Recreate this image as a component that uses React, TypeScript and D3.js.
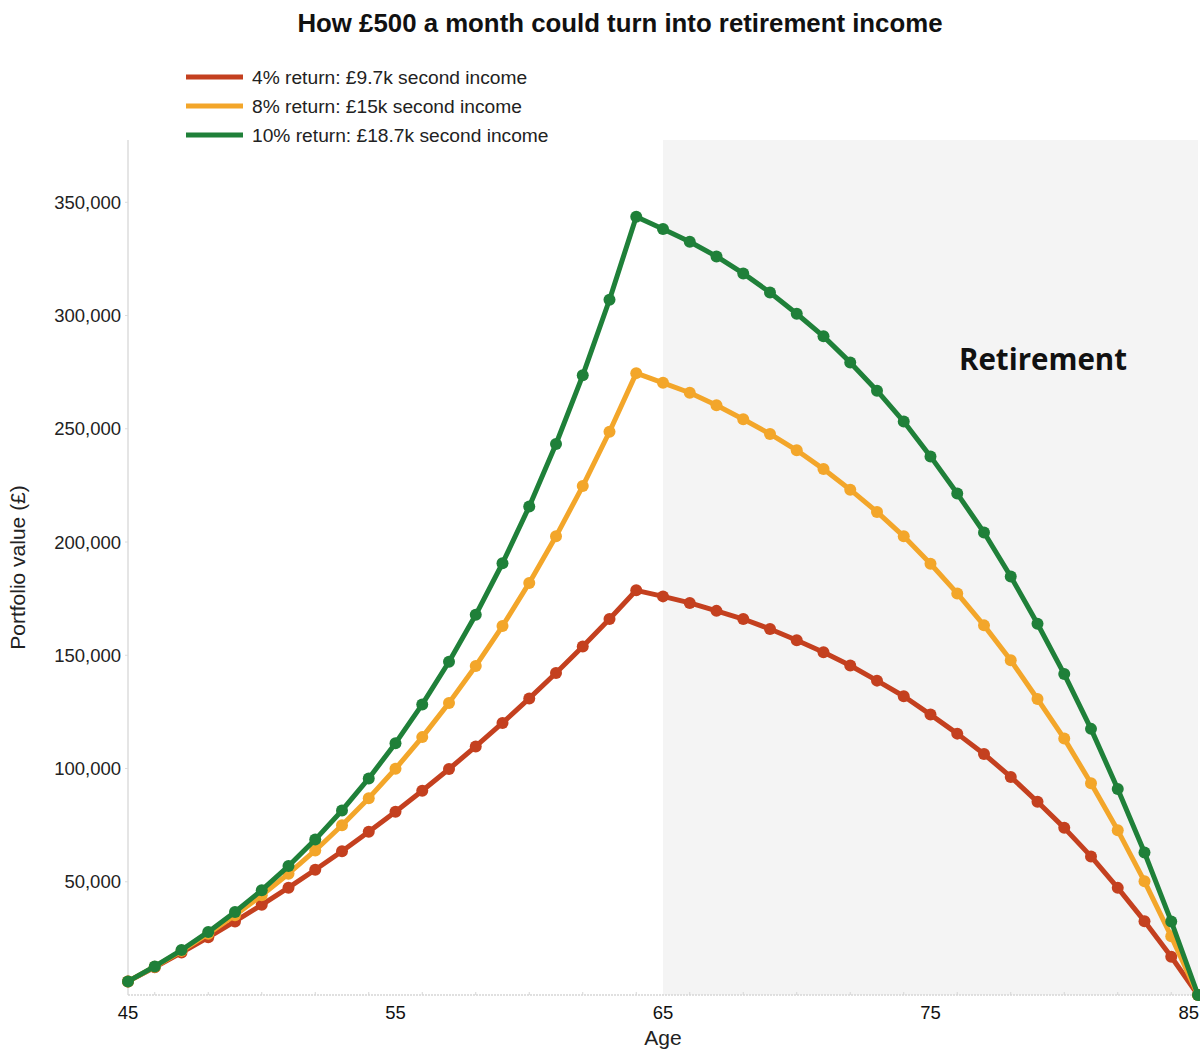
import * as d3 from "d3";

const ages = d3.range(45, 86);

const return4 = [
  6000, 12240, 18730, 25480, 32500, 39800, 47390, 55290, 63500, 72040, 80920,
  90160, 99760, 109750, 120140, 130950, 142190, 153870, 166030, 178670,
  176000, 173100, 169600, 166000, 161600, 156600, 151300, 145500, 138800,
  131900, 123800, 115400, 106400, 96300, 85300, 73800, 61200, 47300, 32600,
  16900, 0,
];
const return8 = [
  6000, 12480, 19480, 27040, 35200, 44020, 53540, 63820, 74930, 86920, 99870,
  113860, 128970, 145290, 162910, 181950, 202500, 224700, 248680, 274570,
  270300, 265900, 260400, 254200, 247700, 240500, 232200, 223100, 213300,
  202500, 190400, 177300, 163200, 147800, 130700, 113200, 93500, 72700, 50200,
  25900, 0,
];
const return10 = [
  6000, 12600, 19860, 27850, 36630, 46290, 56920, 68620, 81480, 95620, 111190,
  128310, 147140, 167850, 190630, 215700, 243270, 273600, 306960, 343650,
  338200, 332600, 326100, 318600, 310200, 300800, 290800, 279300, 266800,
  253200, 237800, 221400, 204200, 184800, 163900, 141700, 117500, 91000, 62900,
  32500, 0,
];

const seriesNames = [
  "4% return: £9.7k second income",
  "8% return: £15k second income",
  "10% return: £18.7k second income",
];
const seriesColors = ["#c4401f", "#f3a62a", "#1f8039"];
const seriesValues = [return4, return8, return10];

const yTicks = [50000, 100000, 150000, 200000, 250000, 300000, 350000];
const xTicks = [45, 55, 65, 75, 85];
const minorTicks = d3.range(46, 85, 2);
const retirementAge = 65;

export default function App() {
  const width = 1200;
  const height = 1054;
  const plot = { left: 128, right: 1198, top: 140, bottom: 995 };
  const font = "'Liberation Sans', Arial, sans-serif";

  const x = d3.scaleLinear().domain([45, 85]).range([plot.left, plot.right]);
  const y = d3.scaleLinear().domain([0, 377500]).range([plot.bottom, plot.top]);

  const line = d3
    .line<number>()
    .x((_, i) => x(ages[i]))
    .y((d) => y(d));

  const fmt = d3.format(",");

  return (
    <div style={{ position: "absolute", left: 0, top: 0 }}>
      <svg width={width} height={height} style={{ display: "block" }}>
        <rect width={width} height={height} fill="white" />
        {/* retirement shading */}
        <rect
          x={x(retirementAge)}
          y={plot.top}
          width={x(85) - x(retirementAge)}
          height={plot.bottom - plot.top}
          fill="#f4f4f4"
        />
        <text
          x={1043}
          y={370}
          textAnchor="middle"
          fontFamily="'Open Sans', sans-serif"
          fontWeight={700}
          fontSize={29.5}
          fill="#111"
        >
          Retirement
        </text>

        {/* title */}
        <text
          x={620}
          y={32}
          textAnchor="middle"
          fontFamily={font}
          fontWeight={700}
          fontSize={25.8}
          fill="#111"
        >
          How £500 a month could turn into retirement income
        </text>

        {/* legend */}
        {seriesNames.map((name, i) => (
          <g key={name} transform={`translate(186, ${77 + i * 29})`}>
            <line x1={0} x2={57} y1={0} y2={0} stroke={seriesColors[i]} strokeWidth={5} />
            <text x={66} y={6.5} fontFamily={font} fontSize={19.2} fill="#222">
              {name}
            </text>
          </g>
        ))}

        {/* y axis */}
        <line
          x1={plot.left}
          x2={plot.left}
          y1={plot.top}
          y2={plot.bottom}
          stroke="#dcdcdc"
          strokeWidth={1.5}
        />
        {yTicks.map((t) => (
          <g key={t}>
            <line x1={plot.left - 3} x2={plot.left} y1={y(t)} y2={y(t)} stroke="#dcdcdc" />
            <text
              x={plot.left - 7}
              y={y(t) + 6.5}
              textAnchor="end"
              fontFamily={font}
              fontSize={18.5}
              fill="#222"
            >
              {fmt(t)}
            </text>
          </g>
        ))}
        <text
          transform={`translate(25, ${(plot.top + plot.bottom) / 2}) rotate(-90)`}
          textAnchor="middle"
          fontFamily={font}
          fontSize={21}
          fill="#222"
        >
          Portfolio value (£)
        </text>

        {/* x axis */}
        <line
          x1={plot.left}
          x2={plot.right}
          y1={plot.bottom}
          y2={plot.bottom}
          stroke="#d6d6d6"
          strokeWidth={1.5}
          strokeDasharray="2 1"
        />
        {minorTicks.map((t) => (
          <line
            key={t}
            x1={x(t)}
            x2={x(t)}
            y1={plot.bottom}
            y2={plot.bottom - 3}
            stroke="#d6d6d6"
          />
        ))}
        {xTicks.map((t, i) => {
          const last = i === xTicks.length - 1;
          return (
            <text
              key={t}
              x={last ? width - 1 : x(t)}
              y={plot.bottom + 24}
              textAnchor={last ? "end" : "middle"}
              fontFamily={font}
              fontSize={18.5}
              fill="#111"
            >
              {t}
            </text>
          );
        })}
        <text
          x={x(retirementAge)}
          y={1045}
          textAnchor="middle"
          fontFamily={font}
          fontSize={21}
          fill="#222"
        >
          Age
        </text>

        {/* series */}
        {seriesValues.map((vals, i) => (
          <g key={seriesNames[i]}>
            <path
              d={line(vals) ?? ""}
              fill="none"
              stroke={seriesColors[i]}
              strokeWidth={5}
              strokeLinejoin="round"
            />
            {vals.map((v, j) => (
              <circle key={j} cx={x(ages[j])} cy={y(v)} r={6} fill={seriesColors[i]} />
            ))}
          </g>
        ))}
      </svg>
    </div>
  );
}
